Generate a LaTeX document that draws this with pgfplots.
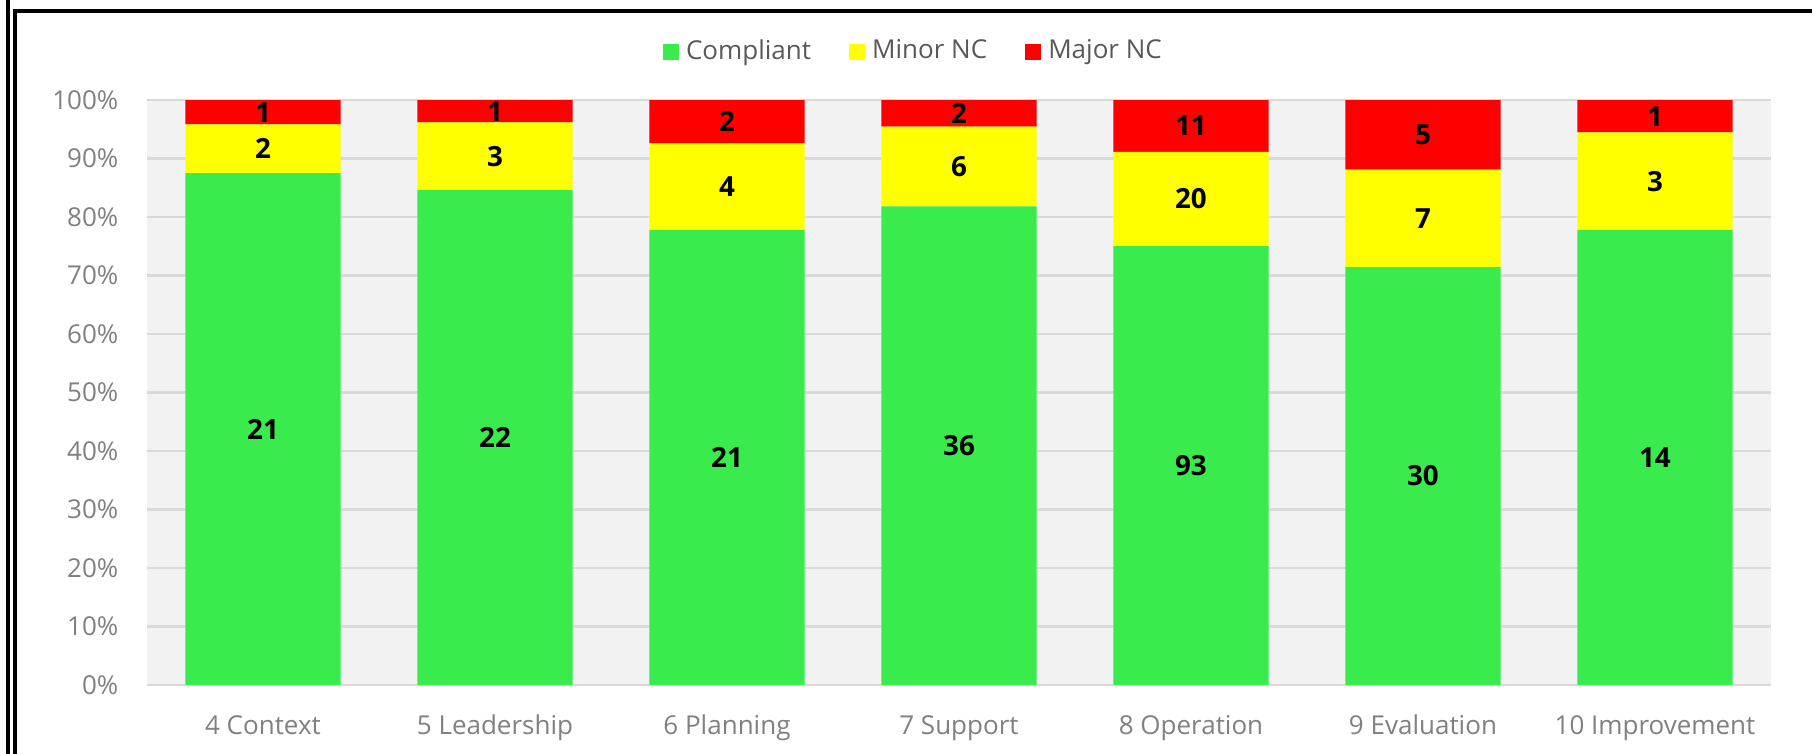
\documentclass[border=0pt]{standalone}
\usepackage{pgfplots}
\pgfplotsset{compat=1.18}
\usepackage{fontspec}
\setmainfont{Open Sans}
\definecolor{compl}{HTML}{39EB4D}
\definecolor{minornc}{HTML}{FFFF00}
\definecolor{majornc}{HTML}{FF0000}
\definecolor{plotbg}{HTML}{F2F2F2}
\definecolor{gridc}{HTML}{D9D9D9}
\definecolor{tickc}{HTML}{808080}
\definecolor{legc}{HTML}{595959}

\begin{document}
\begin{tikzpicture}[x=1cm,y=1cm]
\path[use as bounding box] (0,0) rectangle (18.12,7.53);
\draw[line width=1pt] (0.08,-0.1) -- (0.08,7.7);
\draw[line width=1pt] (18.3,7.42) -- (0.15,7.42) -- (0.15,-0.1);
\begin{axis}[
  at={(1.47cm,0.68cm)},anchor=south west,
  scale only axis,width=16.24cm,height=5.85cm,
  ybar stacked,bar width=0.67,
  xmin=-0.5,xmax=6.5,ymin=0,ymax=100,
  axis background/.style={fill=plotbg},
  axis line style={draw=none},tick style={draw=none},
  ymajorgrids,major grid style={gridc,line width=0.6pt},
  ytick={0,10,...,100},
  yticklabel={\pgfmathprintnumber{\tick}\%},
  /pgf/number format/assume math mode=true,
  xtick=data,
  xticklabels={4 Context,5 Leadership,6 Planning,7 Support,8 Operation,9 Evaluation,10 Improvement},
  tick label style={font=\fontsize{7.4}{9}\selectfont,text=tickc},
  yticklabel style={anchor=east,inner sep=0pt,xshift=-0.28cm},
  xticklabel style={anchor=base,inner sep=0pt,yshift=-0.50cm},
  point meta=explicit symbolic,
  nodes near coords,
  nodes near coords align={center},
  every node near coord/.append style={font=\fontsize{7.9}{9}\selectfont\bfseries,text=black},
  legend columns=3,
  legend style={at={(0.4735,1.082)},anchor=center,draw=none,fill=none,
    font=\fontsize{7.4}{9}\selectfont,text=legc,
    /tikz/every even column/.append style={column sep=0.31cm}},
  legend image code/.code={\fill[#1] (0cm,-0.08cm) rectangle (0.16cm,0.08cm);},
]
% shares of each clause in percent, labels are the counts
\addplot[fill=compl,draw=none] coordinates {
 (0,87.50) [21] (1,84.62) [22] (2,77.78) [21] (3,81.82) [36]
 (4,75.00) [93] (5,71.43) [30] (6,77.78) [14]};
\addlegendentry{Compliant}
\addplot[fill=minornc,draw=none] coordinates {
 (0,8.33) [2] (1,11.54) [3] (2,14.81) [4] (3,13.64) [6]
 (4,16.13) [20] (5,16.67) [7] (6,16.67) [3]};
\addlegendentry{Minor NC}
\addplot[fill=majornc,draw=none] coordinates {
 (0,4.16) [1] (1,3.83) [1] (2,7.40) [2] (3,4.53) [2]
 (4,8.86) [11] (5,11.89) [5] (6,5.54) [1]};
\addlegendentry{Major NC}
\end{axis}
\end{tikzpicture}
\end{document}
